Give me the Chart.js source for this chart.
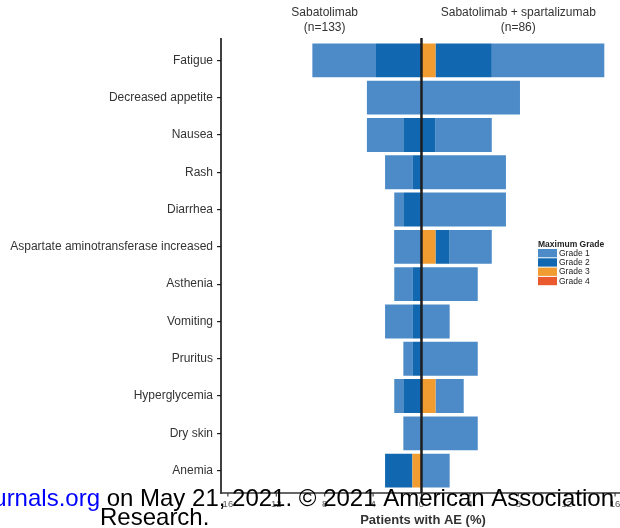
<!DOCTYPE html>
<html>
<head>
<meta charset="utf-8">
<script src="https://cdn.jsdelivr.net/npm/chart.js@4"></script>
<style>
html,body{margin:0;padding:0;background:#fff;overflow:hidden;width:620px;height:528px;}
canvas{display:block;}
</style>
</head>
<body>
<canvas id="c" width="640" height="528"></canvas>
<script>
// ---- data ----
const categories = ['Fatigue','Decreased appetite','Nausea','Rash','Diarrhea',
  'Aspartate aminotransferase increased','Asthenia','Vomiting','Pruritus',
  'Hyperglycemia','Dry skin','Anemia'];
const armNames = ['Sabatolimab','Sabatolimab + spartalizumab'];
const armN = ['(n=133)','(n=86)'];
const gradeNames = ['Grade 1','Grade 2','Grade 3','Grade 4'];
const gradeColors = ['#4d8bc8','#1167b0','#f19c31','#ea5a2e'];

// Sabatolimab (left side), % patients per maximum grade
const monoG1 = [5.26,4.51,3.01,2.26,0.75,2.26,1.50,2.26,0.75,0.75,1.50,0];
const monoG2 = [3.76,0,1.50,0.75,1.50,0,0.75,0.75,0.75,1.50,0,2.26];
const monoG3 = [0,0,0,0,0,0,0,0,0,0,0,0.75];
const monoG4 = [0,0,0,0,0,0,0,0,0,0,0,0];
// Sabatolimab + spartalizumab (right side)
const comboG1 = [9.30,8.14,4.65,6.98,6.98,3.49,4.65,2.33,4.65,2.33,4.65,2.33];
const comboG2 = [4.65,0,1.16,0,0,1.16,0,0,0,0,0,0];
const comboG3 = [1.16,0,0,0,0,1.16,0,0,0,1.16,0,0];
const comboG4 = [0,0,0,0,0,0,0,0,0,0,0,0];

const tickValues = [-16,-12,-8,-4,0,4,8,12,16];
const tickLabels = ['16','12','8','4','0','4','8','12','16'];
const xTitle = 'Patients with AE (%)';
const legendTitle = 'Maximum Grade';
const watermarkBlue = 'urnals.org';
const watermarkLine1 = ' on May 21, 2021. \u00A9 2021 American Association for Cancer';
const watermarkLine2 = 'Research.';

const FONT = '"Liberation Sans", Arial, Helvetica, sans-serif';

const mono = [monoG1, monoG2, monoG3, monoG4];
const combo = [comboG1, comboG2, comboG3, comboG4];
const datasets = [];
// stack from zero outward: grade 4, 3, 2, 1
for (let g = 3; g >= 0; g--) {
  datasets.push({label: gradeNames[g] + ' L', data: mono[g].map(v => -v),
    backgroundColor: gradeColors[g], stack: 's', borderWidth: 0,
    categoryPercentage: 0.91, barPercentage: 1});
}
for (let g = 3; g >= 0; g--) {
  datasets.push({label: gradeNames[g], data: combo[g],
    backgroundColor: gradeColors[g], stack: 's', borderWidth: 0,
    categoryPercentage: 0.91, barPercentage: 1});
}

const AX_TOP = 38, AX_BOTTOM = 493;

const overlay = {
  id: 'overlay',
  afterDatasetsDraw(chart) {
    const {ctx, chartArea, scales: {x}} = chart;
    ctx.save();
    // y axis line
    ctx.strokeStyle = '#111'; ctx.lineWidth = 1.6;
    ctx.beginPath(); ctx.moveTo(chartArea.left, AX_TOP); ctx.lineTo(chartArea.left, AX_BOTTOM + 0.8); ctx.stroke();
    // x axis line
    ctx.strokeStyle = '#333'; ctx.lineWidth = 1.6;
    ctx.beginPath(); ctx.moveTo(chartArea.left - 0.8, AX_BOTTOM); ctx.lineTo(chartArea.right, AX_BOTTOM); ctx.stroke();
    // x tick marks
    ctx.lineWidth = 1.1;
    tickValues.forEach(v => {
      const px = x.getPixelForValue(v);
      ctx.beginPath(); ctx.moveTo(px, AX_BOTTOM); ctx.lineTo(px, AX_BOTTOM + 3.5); ctx.stroke();
    });
    // zero line
    const x0 = x.getPixelForValue(0);
    ctx.strokeStyle = '#1e1e1e'; ctx.lineWidth = 2.5;
    ctx.beginPath(); ctx.moveTo(x0, AX_TOP); ctx.lineTo(x0, AX_BOTTOM); ctx.stroke();
    ctx.restore();
  },
  afterDraw(chart) {
    const {ctx, scales: {x}} = chart;
    ctx.save();
    // arm headers
    ctx.fillStyle = '#333';
    ctx.font = '12px ' + FONT;
    ctx.textAlign = 'center'; ctx.textBaseline = 'middle';
    [-8, 8].forEach((v, i) => {
      const px = x.getPixelForValue(v);
      ctx.fillText(armNames[i], px, 13);
      ctx.fillText(armN[i], px, 28);
    });
    // legend
    ctx.textAlign = 'left'; ctx.textBaseline = 'alphabetic';
    ctx.fillStyle = '#222';
    ctx.font = 'bold 8.5px ' + FONT;
    ctx.fillText(legendTitle, 538, 247);
    ctx.font = '8.5px ' + FONT;
    gradeNames.forEach((g, i) => {
      const yy = 249 + i * 9.3;
      ctx.fillStyle = gradeColors[i];
      ctx.fillRect(538, yy, 19, 8.3);
      ctx.fillStyle = '#222';
      ctx.textBaseline = 'middle';
      ctx.fillText(g, 559, yy + 4.4);
    });
    // watermark
    ctx.font = '24px ' + FONT;
    ctx.textBaseline = 'alphabetic';
    ctx.textAlign = 'right';
    ctx.fillStyle = '#0000ff';
    ctx.fillText(watermarkBlue, 100, 506);
    ctx.textAlign = 'left';
    ctx.fillStyle = '#000';
    ctx.fillText(watermarkLine1, 100, 506);
    ctx.fillText(watermarkLine2, 100, 525);
    ctx.restore();
  }
};

new Chart(document.getElementById('c'), {
  type: 'bar',
  data: {labels: categories, datasets},
  options: {
    indexAxis: 'y',
    responsive: false,
    animation: false,
    layout: {padding: {top: 41.7, right: 15, left: 0, bottom: 0}},
    plugins: {legend: {display: false}, tooltip: {enabled: false}},
    scales: {
      y: {
        type: 'category', stacked: true, offset: true,
        grid: {display: true, drawOnChartArea: false, drawTicks: true, tickLength: 4, offset: false, color: '#222', lineWidth: 1.2},
        border: {display: false},
        ticks: {color: '#333', font: {family: FONT, size: 12}, padding: 4, autoSkip: false},
        afterFit(s) { s.width = 221; }
      },
      x: {
        type: 'linear', stacked: true, min: -16.57, max: 16.82,
        grid: {display: false, drawTicks: false},
        border: {display: false},
        afterBuildTicks(s) { s.ticks = tickValues.map(v => ({value: v})); },
        ticks: {color: '#555', font: {family: FONT, size: 9.5}, padding: 9,
          callback: (v) => tickLabels[tickValues.indexOf(v)]},
        title: {display: true, text: xTitle, color: '#333', font: {family: FONT, size: 13, weight: 'bold', lineHeight: 1.1}, padding: 0},
        afterFit(s) { s.height = 38.7; }
      }
    }
  },
  plugins: [overlay]
});
</script>
</body>
</html>
